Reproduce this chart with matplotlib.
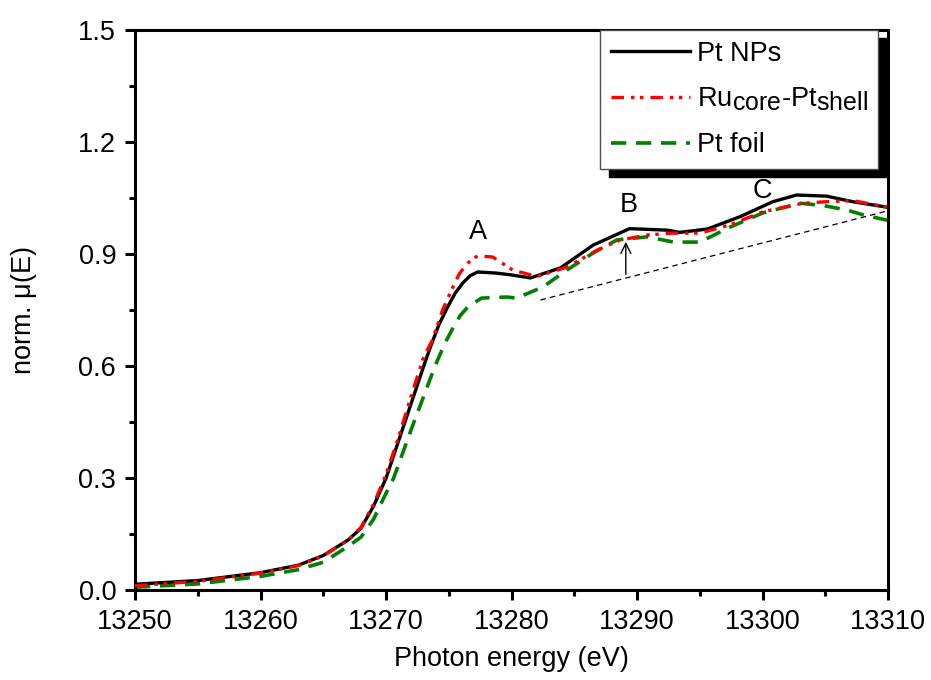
import numpy as np
import matplotlib
matplotlib.use('Agg')
import matplotlib.pyplot as plt
import matplotlib as mpl
import matplotlib._mathtext as mathtext_internal
from matplotlib.ticker import MultipleLocator

# subscripts in the legend are nearly full size in the original
mathtext_internal.SHRINK_FACTOR = 0.92

mpl.rcParams['font.family'] = ['Liberation Sans', 'DejaVu Sans']
mpl.rcParams['font.size'] = 19.5
mpl.rcParams['lines.scale_dashes'] = False
mpl.rcParams['mathtext.fontset'] = 'custom'
mpl.rcParams['mathtext.rm'] = 'Liberation Sans'

# Pt NPs
e_np = [13250, 13255, 13260, 13263, 13265, 13267, 13268, 13269, 13270, 13271,
        13272, 13273, 13273.5, 13274.2, 13274.9, 13275.5, 13276.1, 13276.7,
        13277.3, 13278.8, 13280, 13281.5,
        13283.9, 13286.5, 13289.4, 13292.4, 13293.4, 13295.6, 13298.2, 13300.8,
        13302.7, 13305.1, 13307.2, 13310]
mu_np = [0.016, 0.026, 0.047, 0.067, 0.093, 0.135, 0.166, 0.225, 0.30, 0.40,
         0.50, 0.60, 0.648, 0.71, 0.758, 0.795, 0.822, 0.842,
         0.852, 0.849, 0.844, 0.836,
         0.863, 0.924, 0.968, 0.964, 0.958, 0.967, 1.00, 1.04,
         1.058, 1.055, 1.04, 1.025]

# Ru core - Pt shell
e_rp = [13250, 13255, 13260, 13263, 13265, 13267, 13268, 13269, 13270, 13271,
        13272, 13273, 13273.7, 13274.5, 13275.3, 13275.8, 13276.3, 13276.8,
        13277.3, 13278.5, 13280.1, 13282,
        13284.4, 13286.8, 13288.6, 13290.8, 13292.9, 13295, 13297.4, 13300,
        13303.2, 13305, 13307.2, 13310]
mu_rp = [0.012, 0.024, 0.046, 0.066, 0.092, 0.135, 0.168, 0.23, 0.31, 0.41,
         0.52, 0.625, 0.67, 0.75, 0.81, 0.845, 0.868, 0.885,
         0.895, 0.892, 0.857, 0.84,
         0.865, 0.91, 0.937, 0.951, 0.956, 0.956, 0.978, 1.013,
         1.036, 1.04, 1.043, 1.025]

# Pt foil
e_pf = [13250, 13255, 13260, 13263, 13265, 13267, 13268, 13269, 13270, 13270.6,
        13272, 13273.9, 13274.7, 13275.3, 13275.9, 13276.5, 13277.6, 13279.6,
        13280.4, 13282.5,
        13284.4, 13286.5, 13288.4, 13290.8, 13292.9, 13295, 13297.4, 13300,
        13303, 13304.8, 13306.7, 13308, 13310]
mu_pf = [0.008, 0.017, 0.037, 0.055, 0.075, 0.118, 0.142, 0.19, 0.26, 0.30,
         0.43, 0.60, 0.662, 0.70, 0.735, 0.758, 0.782, 0.785,
         0.782, 0.812,
         0.857, 0.903, 0.938, 0.946, 0.932, 0.932, 0.972, 1.01,
         1.036, 1.03, 1.018, 1.005, 0.99]

base_e = [13282.3, 13310]
base_mu = [0.777, 1.016]

labels = [('A', 13277.3, 0.96), ('B', 13289.3, 1.03), ('C', 13300.0, 1.07)]
arrow_e = 13289.1
arrow_mu = (0.838, 0.940)

fig = plt.figure(figsize=(9.31, 6.8), dpi=100)
ax = fig.add_axes([0.145, 0.132, 0.809, 0.824])

ax.plot(e_np, mu_np, color='black', lw=2.4, label='Pt NPs', zorder=3)
ax.plot(e_rp, mu_rp, color='red', lw=2.4, dashes=(9, 5, 2.5, 4, 2.5, 5),
        label=r'Ru$_{\rm core}$-Pt$_{\rm shell}$', zorder=4)
ax.plot(e_pf, mu_pf, color='green', lw=2.6, dashes=(11, 7),
        label='Pt foil', zorder=2)
ax.plot(base_e, base_mu, color='black', lw=0.9, dashes=(4, 3), zorder=1)

ax.annotate('', xy=(arrow_e, arrow_mu[1]), xytext=(arrow_e, arrow_mu[0]),
            arrowprops=dict(arrowstyle='->', color='black', lw=1.0,
                            mutation_scale=18))
for t, x, y in labels:
    ax.text(x, y, t, ha='center', va='center', fontsize=19.5)

ax.set_xlim(13250, 13310)
ax.set_ylim(0, 1.5)
ax.xaxis.set_major_locator(MultipleLocator(10))
ax.xaxis.set_minor_locator(MultipleLocator(5))
ax.yaxis.set_major_locator(MultipleLocator(0.3))
ax.yaxis.set_minor_locator(MultipleLocator(0.15))
ax.tick_params(which='both', direction='out', width=2.2, top=False, right=False)
ax.tick_params(which='major', length=7.5, pad=6)
ax.tick_params(which='minor', length=4)
ax.xaxis.set_major_formatter(mpl.ticker.FormatStrFormatter('%d'))
ax.yaxis.set_major_formatter(mpl.ticker.FormatStrFormatter('%.1f'))
for s in ax.spines.values():
    s.set_linewidth(2.2)

ax.set_xlabel('Photon energy (eV)', labelpad=8)
ax.set_ylabel(r'norm. $\mathregular{\mu}$(E)', labelpad=28)

leg = ax.legend(loc='upper right', bbox_to_anchor=(0.987, 1.0), fontsize=19.5,
                frameon=True, fancybox=False, framealpha=1, edgecolor='0.3',
                borderpad=0.4, labelspacing=0.7, handlelength=2.9,
                handletextpad=0.25, borderaxespad=0,
                shadow=dict(color='black', alpha=1, ox=6.5, oy=-6))
leg.get_frame().set_linewidth(1.0)

fig.savefig('out.png', dpi=100)
